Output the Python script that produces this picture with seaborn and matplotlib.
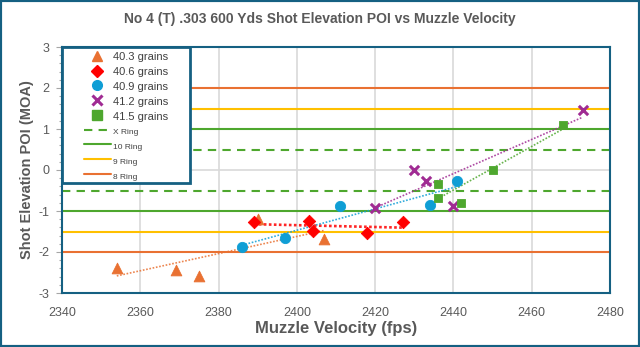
import numpy as np
import pandas as pd
import seaborn as sns
import matplotlib
matplotlib.use("Agg")
import matplotlib.pyplot as plt
from matplotlib.ticker import MultipleLocator
from matplotlib.lines import Line2D
from matplotlib.patches import Rectangle

# Muzzle velocity (fps) and shot elevation POI (MOA) for each powder charge
vel_403 = [2354, 2369, 2375, 2390, 2407]
poi_403 = [-2.40, -2.43, -2.59, -1.20, -1.68]
vel_406 = [2389, 2403, 2404, 2418, 2427]
poi_406 = [-1.28, -1.24, -1.48, -1.54, -1.28]
vel_409 = [2386, 2397, 2411, 2434, 2441]
poi_409 = [-1.87, -1.66, -0.89, -0.85, -0.28]
vel_412 = [2420, 2430, 2433, 2440, 2473]
poi_412 = [-0.93, 0.01, -0.28, -0.87, 1.46]
vel_415 = [2436, 2436, 2442, 2450, 2468]
poi_415 = [-0.35, -0.68, -0.81, 0.00, 1.10]

charges = ["40.3 grains", "40.6 grains", "40.9 grains", "41.2 grains", "41.5 grains"]
velocities = [vel_403, vel_406, vel_409, vel_412, vel_415]
pois = [poi_403, poi_406, poi_409, poi_412, poi_415]

# Scoring ring half-heights (MOA)
ring_names = ["X Ring", "10 Ring", "9 Ring", "8 Ring"]
ring_limits = [0.5, 1.0, 1.5, 2.0]

x_ticks = [2340, 2360, 2380, 2400, 2420, 2440, 2460, 2480]
y_ticks = [-3, -2, -1, 0, 1, 2, 3]

colors = ["#E97132", "#FF0000", "#0F9ED5", "#A02B93", "#4EA72E"]
markers = ["^", "D", "o", "x", "s"]
msizes = [60, 40, 55, 45, 40]
ring_colors = ["#4EA72E", "#4EA72E", "#FFC000", "#E97132"]
ring_styles = [(0, (4, 3)), "-", "-", "-"]

df = pd.DataFrame({
    "velocity": np.concatenate(velocities),
    "poi": np.concatenate(pois),
    "charge": np.repeat(charges, [len(v) for v in velocities]),
})

sns.set_style("white")
plt.rcParams["font.family"] = ["Liberation Sans", "DejaVu Sans"]
plt.rcParams["axes.unicode_minus"] = False

fig = plt.figure(figsize=(6.4, 3.47), dpi=100)
ax = fig.add_axes([62 / 640, 1 - 293 / 347, 548 / 640, 246 / 347])

# Ring bands
for name, lim, col, ls in zip(ring_names, ring_limits, ring_colors, ring_styles):
    for sgn in (1, -1):
        ax.axhline(sgn * lim, color=col, ls=ls, lw=1.5, zorder=1.5)

# Linear trendlines per charge
for ch, col in zip(charges, colors):
    sub = df[df["charge"] == ch]
    red = col == "#FF0000"
    sns.regplot(data=sub, x="velocity", y="poi", ax=ax, scatter=False, ci=None,
                truncate=True,
                line_kws=dict(color=col, lw=1.9 if red else 1.2,
                              ls=(0, (1, 0.9)) if red else (0, (1, 1)),
                              alpha=0.85, zorder=2.5))

# Shots
for ch, col, mk, ms in zip(charges, colors, markers, msizes):
    sub = df[df["charge"] == ch]
    if mk == "x":
        sns.scatterplot(data=sub, x="velocity", y="poi", ax=ax, marker=mk,
                        color=col, s=ms, linewidth=2.2, zorder=3, legend=False)
    else:
        sns.scatterplot(data=sub, x="velocity", y="poi", ax=ax, marker=mk,
                        color=col, s=ms, edgecolor=col, linewidth=0.6,
                        zorder=3, legend=False)

ax.set_xlim(x_ticks[0], x_ticks[-1])
ax.set_ylim(y_ticks[0], y_ticks[-1])
ax.set_xticks(x_ticks)
ax.set_yticks(y_ticks)
ax.set_xticklabels([str(v) for v in x_ticks])
ax.set_yticklabels([str(v) for v in y_ticks])
ax.yaxis.set_minor_locator(MultipleLocator(0.2))
ax.tick_params(axis="x", length=0, pad=10, labelsize=9, labelcolor="#595959")
ax.tick_params(axis="y", which="major", length=4, width=0.8, color="#A6A6A6",
               pad=5, labelsize=9, labelcolor="#595959", left=True)
ax.tick_params(axis="y", which="minor", length=2.5, width=0.8, color="#A6A6A6", left=True)

ax.set_axisbelow(True)
ax.grid(True, which="major", color="#D9D9D9", lw=1.2)
for sp in ax.spines.values():
    sp.set_color("#156082")
    sp.set_linewidth(1.5)

ax.set_xlabel("Muzzle Velocity (fps)", fontsize=12, fontweight="bold",
              color="#595959", va="center")
ax.set_ylabel("Shot Elevation POI (MOA)", fontsize=10.5, fontweight="bold",
              color="#595959", va="center")
ax.xaxis.set_label_coords((336 - 62) / 548, (293 - 328) / 246)
ax.yaxis.set_label_coords((27 - 62) / 548, 0.5)

fig.text(319.5 / 640, 1 - 19 / 347,
         "No 4 (T) .303 600 Yds Shot Elevation POI vs Muzzle Velocity",
         ha="center", va="center", fontsize=10, fontweight="bold",
         color="#595959")

# Legend
handles = []
for col, mk in zip(colors, markers):
    if mk == "x":
        handles.append(Line2D([], [], ls="none", marker=mk, color=col,
                              markersize=6.5, markeredgewidth=2.2))
    else:
        handles.append(Line2D([], [], ls="none", marker=mk, color=col,
                              markeredgecolor=col,
                              markersize=7 if mk != "D" else 6))
for col, ls in zip(ring_colors, ring_styles):
    handles.append(Line2D([], [], color=col, ls=ls, lw=1.5))
labels = charges + ring_names

ax.add_patch(Rectangle((0, (293 - 183) / 246), (190 - 62) / 548, 1 - (293 - 183) / 246,
                       transform=ax.transAxes, facecolor="white",
                       edgecolor="#156082", lw=2, zorder=4.5))
leg = ax.legend(handles, labels, loc="upper left",
                bbox_to_anchor=((84 - 62) / 548, (293 - 51) / 246),
                borderaxespad=0, borderpad=0, frameon=False, fontsize=8,
                handlelength=2.4, handleheight=1.2, handletextpad=0.25,
                labelspacing=0.3)
leg.set_zorder(5)
for t in leg.get_texts():
    t.set_color("#404040")
for t in leg.get_texts()[5:]:
    t.set_fontsize(6)

fig.patches.append(Rectangle((0, 0), 1, 1, transform=fig.transFigure,
                             fill=False, edgecolor="#156082", lw=3))

fig.savefig("out.png", dpi=100)
